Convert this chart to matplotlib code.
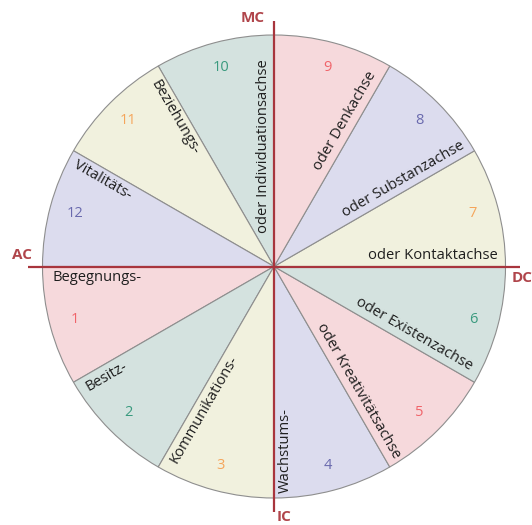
import numpy as np
import matplotlib
matplotlib.use("Agg")
import matplotlib.pyplot as plt

# houses 1..12, counterclockwise starting at the AC
houses = list(range(1, 13))
axis_labels = ["Begegnungs-", "Besitz-", "Kommunikations-", "Wachstums-",
               "oder Kreativitätsachse", "oder Existenzachse", "oder Kontaktachse",
               "oder Substanzachse", "oder Denkachse", "oder Individuationsachse",
               "Beziehungs-", "Vitalitäts-"]
# distance of each label centre from the middle (fraction of radius)
label_dist = [0.763, 0.865, 0.685, 0.793, 0.646, 0.669,
              0.685, 0.672, 0.697, 0.522, 0.771, 0.828]

fill_colors = ["#f6d9dc", "#d4e2df", "#f1f1de", "#dcdcee"] * 3
num_colors = ["#f0646a", "#3a9a7e", "#f5a55a", "#6a6aae"] * 3
axis_red = "#a8353d"

plt.rcParams['font.family'] = ['Open Sans', 'DejaVu Sans']

W, H = 532, 525
cx, cy, R = 274, 266.5, 231.5   # centre and radius in pixels

fig = plt.figure(figsize=(W / 100, H / 100), dpi=100)
ax = fig.add_axes([0, 0, 1, 1])

ax.pie([1] * len(houses), colors=fill_colors, startangle=180, counterclock=True,
       radius=1, wedgeprops=dict(edgecolor="#8e8e8e", linewidth=0.8))

ax.set_xlim(-cx / R, (W - cx) / R)
ax.set_ylim(-(H - cy) / R, cy / R)
ax.set_aspect('equal')
ax.axis('off')

# cross of the axes
ext = 1.062
ax.plot([-ext, ext], [0, 0], color=axis_red, lw=1.6, solid_capstyle='butt')
ax.plot([0, 0], [-ext, ext], color=axis_red, lw=1.6, solid_capstyle='butt')

cfont = dict(color="#b0454b", fontsize=11, fontweight='bold')
ax.text(-0.04, ext + 0.012, "MC", ha='right', va='center', **cfont)
ax.text(-1.045, 0.05, "AC", ha='right', va='center', **cfont)
ax.text(1.028, -0.05, "DC", ha='left', va='center', **cfont)
ax.text(0.01, -ext - 0.02, "IC", ha='left', va='center', **cfont)

off = 11 / R
for i, h in enumerate(houses):
    a = 180 + 30 * i
    t = np.radians(a)
    d = label_dist[i]
    x = d * np.cos(t) - off * np.sin(t)
    y = d * np.sin(t) + off * np.cos(t)
    rot = a % 180
    if rot > 90:
        rot -= 180
    ax.text(x, y, axis_labels[i], rotation=rot, rotation_mode='anchor',
            ha='center', va='center', fontsize=10.6, color="#1e1e1e")

    m = np.radians(a + 15)
    ax.text(0.89 * np.cos(m), 0.89 * np.sin(m), str(h), ha='center', va='center',
            fontsize=10.5, color=num_colors[i])

fig.savefig("out.png", dpi=100)
